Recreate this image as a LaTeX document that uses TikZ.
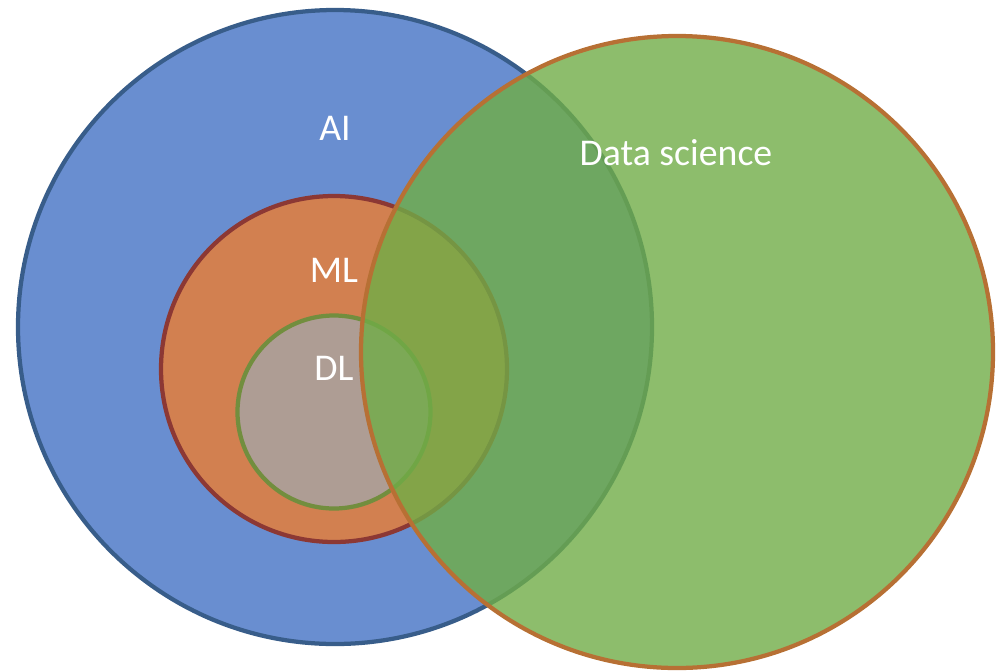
\documentclass[tikz,border=0pt]{standalone}
\usepackage{fontspec}
\setmainfont{Carlito}
\definecolor{aifill}{HTML}{4472C4}
\definecolor{aiedge}{RGB}{56,93,138}
\definecolor{mlfill}{HTML}{ED7D31}
\definecolor{mledge}{RGB}{140,56,52}
\definecolor{dlfill}{HTML}{A5A5A5}
\definecolor{dledge}{RGB}{114,142,62}
\definecolor{dsfill}{HTML}{70AD47}
\definecolor{dsedge}{RGB}{183,112,52}
\tikzset{
  setdisc/.style={circle, inner sep=0pt, line width=0.085cm, fill opacity=0.8},
  setlabel/.style={text=white, font=\fontsize{21.5}{25}\selectfont, inner sep=0pt, anchor=base}
}
\begin{document}
\begin{tikzpicture}[x={(0.02cm,0)}, y={(0,-0.02cm)}]
  \useasboundingbox (0,0) rectangle (997,670);
  % nested circles AI > ML > DL
  \node[setdisc, draw=aiedge, fill=aifill, minimum size=0.02cm*634] (ai) at (335,327) {};
  \node[setdisc, draw=mledge, fill=mlfill, minimum size=0.02cm*346] (ml) at (334,369) {};
  \node[setdisc, draw=dledge, fill=dlfill, minimum size=0.02cm*193] (dl) at (334,412) {};
  % overlapping data science circle
  \node[setdisc, draw=dsedge, fill=dsfill, minimum size=0.02cm*632] (ds) at (677,352) {};
  % labels
  \node[setlabel] (ailabel) at (335,140) {AI};
  \node[setlabel] (mllabel) at (334,282) {ML};
  \node[setlabel] (dllabel) at (334,380) {DL};
  \node[setlabel] (dslabel) at (676,165) {Data science};
\end{tikzpicture}
\end{document}
